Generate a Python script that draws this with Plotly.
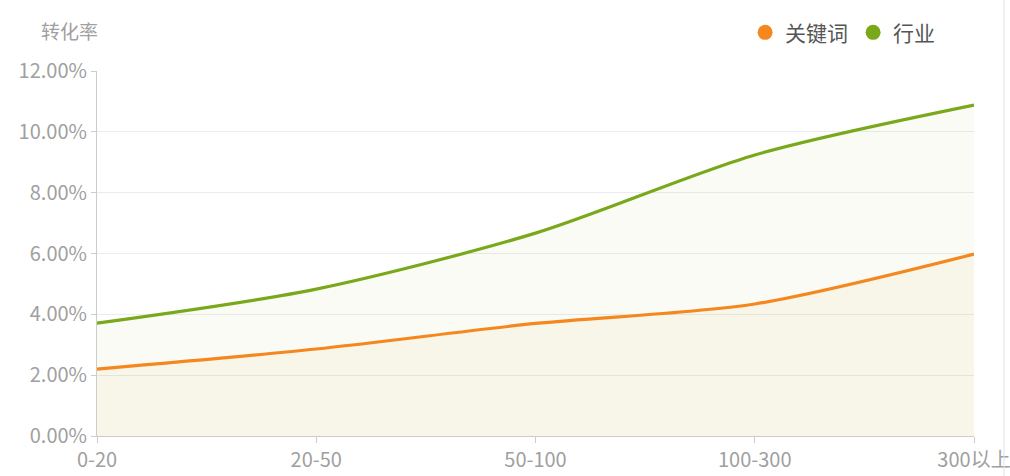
import plotly.graph_objects as go

# Conversion rate by price band
categories = ["0-20", "20-50", "50-100", "100-300", "300以上"]
keyword_rate = [2.20, 2.86, 3.70, 4.34, 5.98]
industry_rate = [3.71, 4.83, 6.67, 9.24, 10.88]
y_ticks = [0, 2, 4, 6, 8, 10, 12]
y_tick_text = [f"{v:.2f}%" for v in y_ticks]

ORANGE = "#f5871f"
GREEN = "#7aa81b"
FONT = "Noto Sans CJK SC, Microsoft YaHei, sans-serif"
AXIS_TEXT = "#a0a0a0"

fig = go.Figure()

# industry area (drawn first, underneath)
fig.add_trace(go.Scatter(
    x=categories, y=industry_rate, mode="lines", name="行业",
    line=dict(color=GREEN, width=3.2, shape="spline", smoothing=0.8),
    fill="tozeroy", fillcolor="rgba(150,168,27,0.045)",
    showlegend=False, hoverinfo="skip",
))
# keyword area
fig.add_trace(go.Scatter(
    x=categories, y=keyword_rate, mode="lines", name="关键词",
    line=dict(color=ORANGE, width=3.2, shape="spline", smoothing=0.8),
    fill="tozeroy", fillcolor="rgba(220,170,40,0.06)",
    showlegend=False, hoverinfo="skip",
))

# legend entries as round markers
for name, color in [("关键词", ORANGE), ("行业", GREEN)]:
    fig.add_trace(go.Scatter(
        x=[None], y=[None], mode="markers", name=name,
        marker=dict(color=color, size=15, symbol="circle"),
    ))

fig.update_layout(
    width=1010, height=476,
    margin=dict(l=97, r=36, t=71, b=40),
    paper_bgcolor="white", plot_bgcolor="white",
    font=dict(family=FONT, color=AXIS_TEXT, size=20),
    legend=dict(
        orientation="h", x=0.739, y=1.105, xanchor="left", yanchor="middle",
        font=dict(family=FONT, size=21, color="#555555"),
        itemwidth=30, tracegroupgap=0,
        bgcolor="rgba(0,0,0,0)",
    ),
    xaxis=dict(
        type="category", range=[0, len(categories) - 1],
        tickvals=categories, ticktext=categories,
        showgrid=False, zeroline=False, automargin=False,
        showline=True, linecolor="#cccccc", linewidth=1,
        ticks="outside", ticklen=6, tickcolor="#cccccc",
        tickfont=dict(family=FONT, size=20, color=AXIS_TEXT),
    ),
    yaxis=dict(
        range=[0, 12], tickvals=y_ticks, ticktext=y_tick_text,
        showgrid=True, gridcolor="#ececec", gridwidth=1, zeroline=False,
        automargin=False,
        showline=True, linecolor="#cccccc", linewidth=1,
        ticks="outside", ticklen=5, tickcolor="#cccccc",
        tickfont=dict(family=FONT, size=20, color=AXIS_TEXT),
    ),
    annotations=[dict(
        text="转化率", xref="paper", yref="paper",
        x=-0.031, y=1.112, xanchor="center", yanchor="middle",
        showarrow=False, font=dict(family=FONT, size=19, color=AXIS_TEXT),
    )],
    shapes=[dict(
        type="line", xref="paper", yref="paper",
        x0=1.0342, x1=1.0342, y0=-0.2, y1=1.3,
        line=dict(color="#e3e3e3", width=1),
    )],
)

fig.write_html("out.html")
